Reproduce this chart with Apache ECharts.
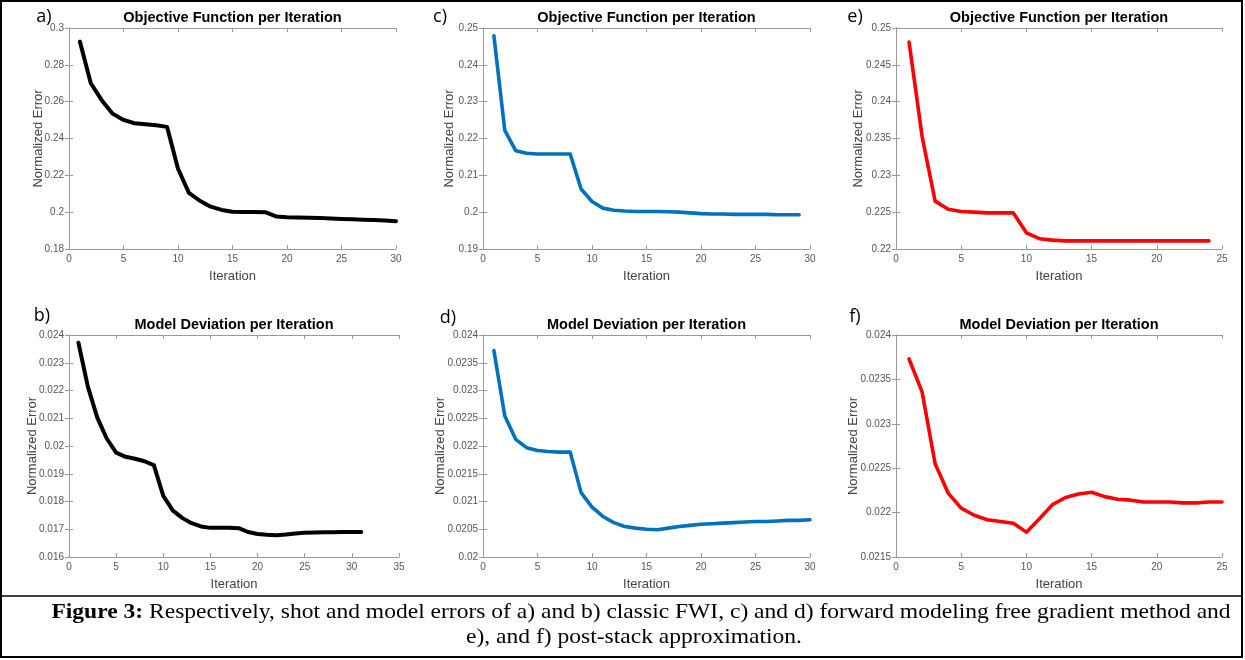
<!DOCTYPE html>
<html>
<head>
<meta charset="utf-8">
<script src="https://cdn.jsdelivr.net/npm/echarts@6/dist/echarts.min.js"></script>
<style>
  html, body { margin: 0; padding: 0; background: #fff; }
  #chart { width: 1245px; height: 660px; }
</style>
</head>
<body>
<div id="chart"></div>
<script>
// ---- data ----
const panelLetters = ['a)', 'b)', 'c)', 'd)', 'e)', 'f)'];
const objTitle = 'Objective Function per Iteration';
const devTitle = 'Model Deviation per Iteration';
const xName = 'Iteration';
const yName = 'Normalized Error';
const captionBold = 'Figure 3:';
const captionLine1 = ' Respectively, shot and model errors of a) and b) classic FWI, c) and d) forward modeling free gradient method and';
const captionLine2 = 'e), and f) post-stack approximation.';

// a) classic FWI, objective function
const objClassic = [0.2926, 0.2700, 0.2608, 0.2535, 0.2501, 0.2483, 0.2477, 0.2472, 0.2463, 0.2236,
  0.2105, 0.2062, 0.2030, 0.2012, 0.2002, 0.2001, 0.2001, 0.2000, 0.1977, 0.1972,
  0.1971, 0.1970, 0.1969, 0.1966, 0.1963, 0.1961, 0.1959, 0.1957, 0.1955, 0.1951];
// b) classic FWI, model deviation
const devClassic = [0.02372, 0.02214, 0.02102, 0.02027, 0.01976, 0.01961, 0.01954, 0.01945, 0.01931, 0.01820,
  0.01768, 0.01741, 0.01722, 0.01710, 0.01705, 0.01705, 0.01705, 0.01704, 0.01690, 0.01683,
  0.01680, 0.01678, 0.01681, 0.01685, 0.01687, 0.01688, 0.01689, 0.01689, 0.01690, 0.01690, 0.01690];
// c) forward modeling free gradient, objective function
const objFree = [0.2479, 0.2222, 0.2167, 0.2160, 0.2158, 0.2158, 0.2158, 0.2158, 0.2063, 0.2029,
  0.2011, 0.2005, 0.2003, 0.2002, 0.2002, 0.2002, 0.2001, 0.2000, 0.1998, 0.1996,
  0.1995, 0.1995, 0.1994, 0.1994, 0.1994, 0.1994, 0.1993, 0.1993, 0.1993];
// d) forward modeling free gradient, model deviation
const devFree = [0.02372, 0.02254, 0.02212, 0.02197, 0.02192, 0.02190, 0.02189, 0.02189, 0.02116, 0.02090,
  0.02073, 0.02062, 0.02055, 0.02052, 0.02050, 0.02049, 0.02052, 0.02055, 0.02057, 0.02059,
  0.02060, 0.02061, 0.02062, 0.02063, 0.02064, 0.02064, 0.02065, 0.02066, 0.02066, 0.02067];
// e) post-stack approximation, objective function
const objPost = [0.2481, 0.2353, 0.2265, 0.2254, 0.2251, 0.2250, 0.2249, 0.2249, 0.2249, 0.2222,
  0.2214, 0.2212, 0.2211, 0.2211, 0.2211, 0.2211, 0.2211, 0.2211, 0.2211, 0.2211,
  0.2211, 0.2211, 0.2211, 0.2211];
// f) post-stack approximation, model deviation
const devPost = [0.02373, 0.02336, 0.02255, 0.02222, 0.02205, 0.02197, 0.02192, 0.02190, 0.02188, 0.02178,
  0.02193, 0.02209, 0.02217, 0.02221, 0.02223, 0.02218, 0.02215, 0.02214, 0.02212, 0.02212,
  0.02212, 0.02211, 0.02211, 0.02212, 0.02212];

// axis ranges [xMax, yMin, yMax, yInterval]
const axisA = [30, 0.18, 0.30, 0.02];
const axisB = [35, 0.016, 0.024, 0.001];
const axisC = [30, 0.19, 0.25, 0.01];
const axisD = [30, 0.020, 0.024, 0.0005];
const axisE = [25, 0.22, 0.25, 0.005];
const axisF = [25, 0.0215, 0.024, 0.0005];

// ---- layout / style ----
const panels = [
  { key: 'a', data: objClassic, axis: axisA, color: '#000000', width: 4, title: objTitle,
    grid: { left: 69, top: 28, width: 327, height: 221 }, yGap: 24.5, letter: [44, 17] },
  { key: 'c', data: objFree, axis: axisC, color: '#0072BD', width: 3.6, title: objTitle,
    grid: { left: 483, top: 28, width: 327, height: 221 }, yGap: 27.5, letter: [440, 17] },
  { key: 'e', data: objPost, axis: axisE, color: '#FF0000', width: 3.6, title: objTitle,
    grid: { left: 896, top: 28, width: 326, height: 221 }, yGap: 31.5, letter: [855, 17] },
  { key: 'b', data: devClassic, axis: axisB, color: '#000000', width: 4, title: devTitle,
    grid: { left: 69, top: 335, width: 330, height: 222 }, yGap: 30.5, letter: [42, 316] },
  { key: 'd', data: devFree, axis: axisD, color: '#0072BD', width: 3.6, title: devTitle,
    grid: { left: 483, top: 335, width: 327, height: 222 }, yGap: 36.5, letter: [448, 318] },
  { key: 'f', data: devPost, axis: axisF, color: '#FF0000', width: 3.6, title: devTitle,
    grid: { left: 896, top: 335, width: 326, height: 222 }, yGap: 36.5, letter: [855, 317] }
];
const letterOrder = { a: 0, b: 1, c: 2, d: 3, e: 4, f: 5 };

const axisColor = '#9a9a9a';
const labelColor = '#555555';
const sansFont = '"Liberation Sans", Arial, sans-serif';
const serifFont = '"Liberation Serif", "Times New Roman", serif';

const grids = [], xAxes = [], yAxes = [], series = [], graphics = [];

panels.forEach((p, i) => {
  grids.push(Object.assign({ show: false, containLabel: false }, p.grid));
  const [xMax, yMin, yMax, yInt] = p.axis;
  const baseX = {
    gridIndex: i, type: 'value', min: 0, max: xMax, interval: 5,
    axisLine: { show: true, lineStyle: { color: axisColor, width: 1 } },
    axisTick: { show: true, inside: true, length: 4, lineStyle: { color: axisColor } },
    splitLine: { show: false }
  };
  xAxes.push(Object.assign({}, baseX, {
    position: 'bottom',
    axisLabel: { show: true, color: labelColor, fontSize: 10, fontFamily: sansFont, margin: 5 },
    name: xName, nameLocation: 'middle', nameGap: 21, nameMoveOverlap: false,
    nameTextStyle: { color: '#444444', fontSize: 13, fontFamily: sansFont }
  }));
  xAxes.push(Object.assign({}, baseX, { position: 'top', axisLabel: { show: false } }));
  const baseY = {
    gridIndex: i, type: 'value', min: yMin, max: yMax, interval: yInt,
    axisLine: { show: true, lineStyle: { color: axisColor, width: 1 } },
    axisTick: { show: true, inside: true, length: 4, lineStyle: { color: axisColor } },
    splitLine: { show: false }
  };
  yAxes.push(Object.assign({}, baseY, {
    position: 'left',
    axisLabel: { show: true, color: labelColor, fontSize: 10, fontFamily: sansFont, margin: 5 },
    name: yName, nameLocation: 'middle', nameGap: p.yGap, nameRotate: 90, nameMoveOverlap: false,
    nameTextStyle: { color: '#444444', fontSize: 13, fontFamily: sansFont }
  }));
  yAxes.push(Object.assign({}, baseY, { position: 'right', axisLabel: { show: false } }));

  series.push({
    type: 'line', xAxisIndex: 2 * i, yAxisIndex: 2 * i,
    data: p.data.map((v, k) => [k + 1, v]),
    showSymbol: false, symbol: 'none',
    lineStyle: { color: p.color, width: p.width, join: 'round', cap: 'round' },
    itemStyle: { color: p.color },
    animation: false, silent: true
  });

  // panel title
  graphics.push({
    type: 'text', silent: true,
    style: {
      text: p.title, x: p.grid.left + p.grid.width / 2, y: p.grid.top - 10,
      align: 'center', verticalAlign: 'middle',
      fontSize: 14.5, fontWeight: 'bold', fontFamily: sansFont, fill: '#000000'
    }
  });
  // panel letter
  graphics.push({
    type: 'text', silent: true,
    style: {
      text: panelLetters[letterOrder[p.key]], x: p.letter[0], y: p.letter[1],
      align: 'center', verticalAlign: 'middle',
      fontSize: 18, fontFamily: '"Open Sans", "Noto Sans", sans-serif', fill: '#000000'
    }
  });
});

// figure frame and caption box
graphics.push({
  type: 'rect', silent: true,
  shape: { x: 1, y: 1, width: 1241, height: 656 },
  style: { fill: 'none', stroke: '#000000', lineWidth: 2 }
});
graphics.push({
  type: 'line', silent: true,
  shape: { x1: 1, y1: 596, x2: 1242, y2: 596 },
  style: { stroke: '#000000', lineWidth: 1.5 }
});
graphics.push({
  type: 'text', silent: true, x: 641, y: 612, scaleX: 1.07,
  style: {
    text: '{b|' + captionBold + '}' + captionLine1, x: 0, y: 0,
    align: 'center', verticalAlign: 'middle',
    fontSize: 22, fontFamily: serifFont, fill: '#000000',
    rich: { b: { fontWeight: 'bold', fontSize: 22, fontFamily: serifFont } }
  }
});
graphics.push({
  type: 'text', silent: true, x: 634, y: 637, scaleX: 1.07,
  style: {
    text: captionLine2, x: 0, y: 0,
    align: 'center', verticalAlign: 'middle',
    fontSize: 22, fontFamily: serifFont, fill: '#000000'
  }
});

const chart = echarts.init(document.getElementById('chart'), null, { renderer: 'canvas' });
chart.setOption({
  animation: false,
  backgroundColor: '#ffffff',
  grid: grids,
  xAxis: xAxes,
  yAxis: yAxes,
  series: series,
  graphic: graphics
});
</script>
</body>
</html>
